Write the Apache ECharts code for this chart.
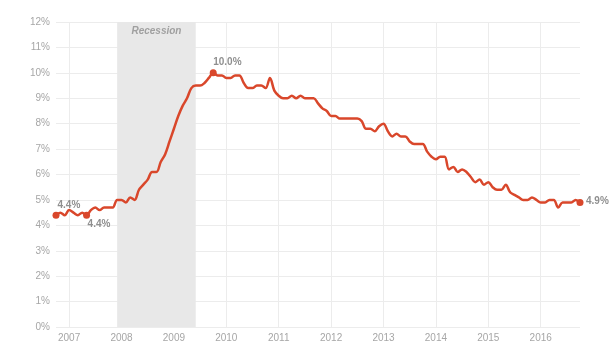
<!DOCTYPE html>
<html>
<head>
<meta charset="utf-8">
<script src="https://cdn.jsdelivr.net/npm/echarts@6/dist/echarts.min.js"></script>
<style>html,body{margin:0;padding:0;background:#fff;}#c{width:616px;height:346px;}</style>
</head>
<body>
<div id="c"></div>
<script>
// Months Oct 2006 .. Oct 2016
const months = [];
for (let y = 2006; y <= 2016; y++) {
  for (let m = 1; m <= 12; m++) {
    if (y === 2006 && m < 10) continue;
    if (y === 2016 && m > 10) break;
    months.push(y + '-' + (m < 10 ? '0' + m : '' + m));
  }
}
const rate2006 = [4.4, 4.5, 4.4];
const rate2007 = [4.6, 4.5, 4.4, 4.5, 4.4, 4.6, 4.7, 4.6, 4.7, 4.7, 4.7, 5.0];
const rate2008 = [5.0, 4.9, 5.1, 5.0, 5.4, 5.6, 5.8, 6.1, 6.1, 6.5, 6.8, 7.3];
const rate2009 = [7.8, 8.3, 8.7, 9.0, 9.4, 9.5, 9.5, 9.6, 9.8, 10.0, 9.9, 9.9];
const rate2010 = [9.8, 9.8, 9.9, 9.9, 9.6, 9.4, 9.4, 9.5, 9.5, 9.4, 9.8, 9.3];
const rate2011 = [9.1, 9.0, 9.0, 9.1, 9.0, 9.1, 9.0, 9.0, 9.0, 8.8, 8.6, 8.5];
const rate2012 = [8.3, 8.3, 8.2, 8.2, 8.2, 8.2, 8.2, 8.1, 7.8, 7.8, 7.7, 7.9];
const rate2013 = [8.0, 7.7, 7.5, 7.6, 7.5, 7.5, 7.3, 7.2, 7.2, 7.2, 6.9, 6.7];
const rate2014 = [6.6, 6.7, 6.7, 6.2, 6.3, 6.1, 6.2, 6.1, 5.9, 5.7, 5.8, 5.6];
const rate2015 = [5.7, 5.5, 5.4, 5.4, 5.6, 5.3, 5.2, 5.1, 5.0, 5.0, 5.1, 5.0];
const rate2016 = [4.9, 4.9, 5.0, 5.0, 4.7, 4.9, 4.9, 4.9, 5.0, 4.9];
const rates = [].concat(rate2006, rate2007, rate2008, rate2009, rate2010, rate2011,
  rate2012, rate2013, rate2014, rate2015, rate2016);

const yTicks = [0, 1, 2, 3, 4, 5, 6, 7, 8, 9, 10, 11, 12];
const recession = ['2007-12', '2009-06'];
const recessionLabel = 'Recession';
const annotated = ['2006-10', '2007-05', '2009-10', '2016-10'];

// label placement relative to the symbol's bounding box (style only)
const labelStyles = {
  '2006-10': [5, -6],
  '2007-05': [4.5, 12.5],
  '2009-10': [3.5, -7],
  '2016-10': [9.5, 2.5]
};

const seriesData = rates.map((v, i) => {
  const key = months[i];
  if (annotated.indexOf(key) >= 0) {
    return {
      value: v,
      symbol: 'circle',
      symbolSize: 7,
      label: {
        show: true,
        formatter: v.toFixed(1) + '%',
        position: labelStyles[key],
        align: 'left',
        verticalAlign: 'middle',
        color: '#8f8f8f',
        fontSize: 10,
        fontWeight: 'bold',
        fontFamily: 'Liberation Sans, Arial, sans-serif'
      }
    };
  }
  return {value: v, symbol: 'none', label: {show: false}};
});

const chart = echarts.init(document.getElementById('c'), null, {renderer: 'canvas'});
chart.setOption({
  animation: false,
  grid: {left: 56, right: 36, top: 22, bottom: 19, containLabel: false},
  xAxis: {
    type: 'category',
    data: months,
    boundaryGap: false,
    axisLine: {show: false},
    axisTick: {show: false},
    axisLabel: {
      interval: (i, v) => v.slice(5) === '01',
      formatter: v => v.slice(0, 4),
      color: '#a6a6a6',
      fontSize: 10,
      margin: 6,
      fontFamily: 'Liberation Sans, Arial, sans-serif'
    },
    splitLine: {
      show: true,
      interval: (i, v) => v.slice(5) === '01',
      lineStyle: {color: '#ececec', width: 1}
    }
  },
  yAxis: {
    type: 'value',
    min: yTicks[0],
    max: yTicks[yTicks.length - 1],
    interval: 1,
    axisLine: {show: false},
    axisTick: {show: false},
    axisLabel: {
      formatter: v => v + '%',
      color: '#a6a6a6',
      fontSize: 10,
      margin: 6,
      fontFamily: 'Liberation Sans, Arial, sans-serif'
    },
    splitLine: {lineStyle: {color: '#ececec', width: 1}}
  },
  series: [{
    type: 'line',
    data: seriesData,
    smooth: 0.35,
    showSymbol: true,
    showAllSymbol: true,
    labelLayout: {hideOverlap: false},
    itemStyle: {color: '#d9472b'},
    lineStyle: {color: '#d9472b', width: 2.5},
    z: 3,
    markArea: {
      silent: true,
      itemStyle: {color: '#e8e8e8'},
      label: {
        show: true,
        position: 'insideTop',
        distance: 4,
        color: '#a0a0a0',
        fontStyle: 'italic',
        fontWeight: 'bold',
        fontSize: 10,
        fontFamily: 'Liberation Sans, Arial, sans-serif'
      },
      data: [[{name: recessionLabel, xAxis: recession[0], yAxis: 12}, {xAxis: recession[1], yAxis: 0}]]
    }
  }]
});
</script>
</body>
</html>
